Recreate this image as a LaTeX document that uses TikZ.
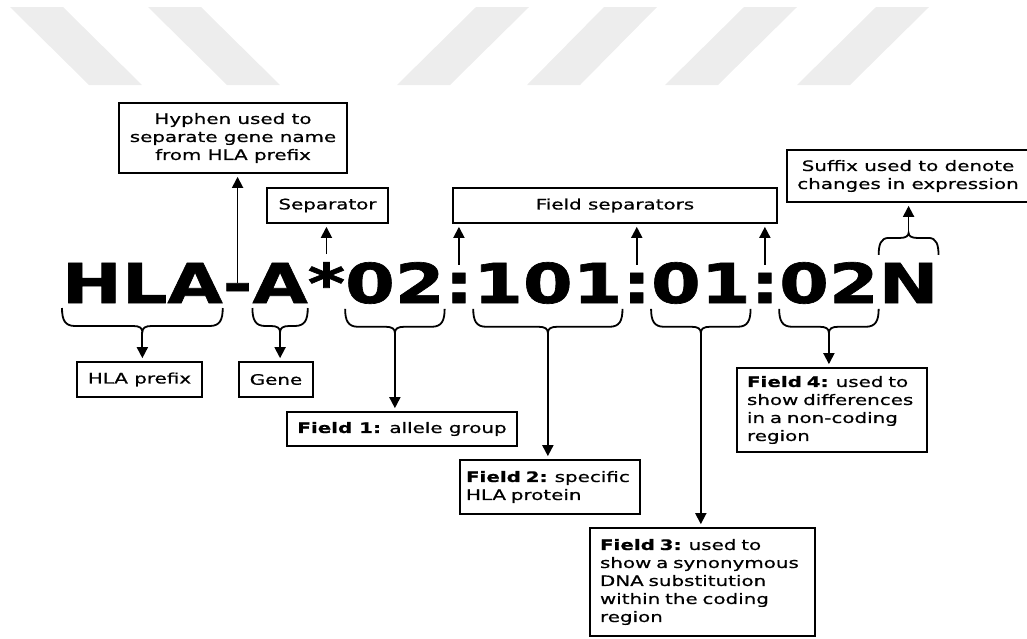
\documentclass[tikz,border=0pt]{standalone}
\usepackage{fontspec}
\setmainfont{DejaVu Sans}[FakeStretch=1.38,FakeBold=0.6]
\newfontfamily\namefont{DejaVu Sans}[FakeStretch=1.3,FakeBold=1.2]
\usetikzlibrary{arrows.meta,positioning}
\hyphenpenalty=10000

\tikzset{
  part/.style={inner sep=0pt, outer sep=0pt, anchor=base west,
    font=\namefont\bfseries\fontsize{55}{60}\selectfont},
  box/.style={draw, line width=1.7pt, inner xsep=10pt, inner ysep=3pt,
    font=\fontsize{14.4}{18}\selectfont},
  arr/.style={line width=1.8pt, -{Triangle[width=11pt,length=11pt]}, shorten >=3pt},
  stripe/.style={fill=black!7}
}

% brace under a part of the name, tip named <part>-tip
\newcommand{\partbrace}[1]{%
  \coordinate (#1-tip) at ([yshift=-29pt]#1.south);
  \draw[line width=1.8pt] ([yshift=-5pt]#1.south west)
    .. controls +(0,-12pt) and +(-10pt,0) .. ([shift={(13pt,-23pt)}]#1.south west)
    -- ([shift={(-9pt,-23pt)}]#1.south)
    .. controls +(6pt,0) and +(0,4pt) .. (#1-tip)
    .. controls +(0,4pt) and +(-6pt,0) .. ([shift={(9pt,-23pt)}]#1.south)
    -- ([shift={(-13pt,-23pt)}]#1.south east)
    .. controls +(10pt,0) and +(0,-12pt) .. ([yshift=-5pt]#1.south east);
}
% brace over a part of the name, tip named <part>-top
\newcommand{\topbrace}[1]{%
  \coordinate (#1-top) at ([yshift=30pt]#1.north);
  \draw[line width=1.8pt] ([yshift=8pt]#1.north west)
    .. controls +(0,10pt) and +(-8pt,0) .. ([shift={(10pt,25pt)}]#1.north west)
    -- ([shift={(-8pt,25pt)}]#1.north)
    .. controls +(5pt,0) and +(0,-3pt) .. (#1-top)
    .. controls +(0,-3pt) and +(-5pt,0) .. ([shift={(8pt,25pt)}]#1.north)
    -- ([shift={(-10pt,25pt)}]#1.north east)
    .. controls +(8pt,0) and +(0,10pt) .. ([yshift=8pt]#1.north east);
}

\begin{document}
\begin{tikzpicture}[x=1pt,y=-1pt]
    \useasboundingbox (0,0) rectangle (1027,638);

    % Faint stripes along the top
    \foreach \a/\b in {10/89, 148/227, 476/397, 604/527, 744/665, 876/797}
        \fill[stripe] (\a,7) -- (\a+53,7) -- (\b+53,85) -- (\b,85) -- cycle;

    % Draw the allele name in parts
    \node[part] (hla) at (62,303) {HLA};
    \node[part] (hyph) at (hla.base east) {-};
    \node[part] (gene) at (hyph.base east) {A};
    \node[part] (star) at (gene.base east) {*};
    \node[part] (f1) at (star.base east) {02};
    \node[part] (c1) at (f1.base east) {:};
    \node[part] (f2) at (c1.base east) {101};
    \node[part] (c2) at (f2.base east) {:};
    \node[part] (f3) at (c2.base east) {01};
    \node[part] (c3) at (f3.base east) {:};
    \node[part] (f4) at (c3.base east) {02};
    \node[part] (sfx) at (f4.base east) {N};

    % Draw boxes above
    \node[box, align=center, minimum width=228, minimum height=70] (hyphbox) at (233,138)
        {Hyphen used to\\separate gene name\\from HLA prefix};
    \node[box, minimum width=121, minimum height=35] (sepbox) at (327.5,205.5) {Separator};
    \node[box, minimum width=324, minimum height=35] (fsbox) at (615,205.5) {Field separators};
    \node[box, align=center, minimum width=236, minimum height=52] (sfxbox) at (908,176)
        {Suffix used to denote\\changes in expression};

    % Draw boxes below
    \node[box, minimum width=125, minimum height=35] (prefixbox) at (139.5,379.5) {HLA prefix};
    \node[box, minimum width=74, minimum height=35] (genebox) at (276,379.5) {Gene};
    \node[box, minimum width=230, minimum height=34] (f1box) at (402,429)
        {\textbf{Field 1:} allele group};
    \node[box, align=left, inner xsep=6pt, text width=168, minimum height=54] (f2box) at (550,487)
        {\textbf{Field 2:} specific\\HLA protein};
    \node[box, align=left, text width=205, minimum height=108] (f3box) at (702.5,582)
        {\textbf{Field 3:} used to\\show a synonymous\\DNA substitution\\within the coding\\region};
    \node[box, align=left, text width=170, minimum height=84] (f4box) at (832,410)
        {\textbf{Field 4:} used to\\show differences\\in a non-coding\\region};

    % Draw braces
    \partbrace{hla}
    \partbrace{gene}
    \partbrace{f1}
    \partbrace{f2}
    \partbrace{f3}
    \partbrace{f4}
    \topbrace{sfx}

    % Draw arrows up
    \draw[arr] (hyph.north) -- (hyph.north |- hyphbox.south);
    \draw[arr] ([yshift=8pt]star.north) -- (star.north |- sepbox.south);
    \draw[arr] ([yshift=8pt]c1.north) -- (c1.north |- fsbox.south);
    \draw[arr] ([yshift=8pt]c2.north) -- (c2.north |- fsbox.south);
    \draw[arr] ([yshift=8pt]c3.north) -- (c3.north |- fsbox.south);
    \draw[arr] (sfx-top) -- (sfx-top |- sfxbox.south);

    % Draw arrows down
    \draw[arr] (hla-tip) -- (hla-tip |- prefixbox.north);
    \draw[arr] (gene-tip) -- (gene-tip |- genebox.north);
    \draw[arr] (f1-tip) -- (f1-tip |- f1box.north);
    \draw[arr] (f2-tip) -- (f2-tip |- f2box.north);
    \draw[arr] (f3-tip) -- (f3-tip |- f3box.north);
    \draw[arr] (f4-tip) -- (f4-tip |- f4box.north);
\end{tikzpicture}
\end{document}
